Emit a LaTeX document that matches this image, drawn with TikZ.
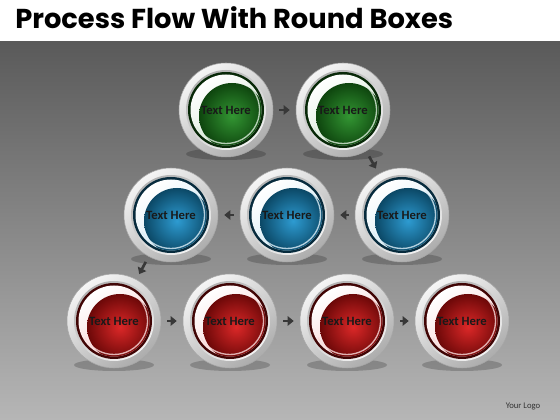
\documentclass[tikz,border=0pt]{standalone}
\usepackage{fontspec}
\setmainfont{Carlito}
\newfontfamily\titlefont{Poppins}
\usetikzlibrary{arrows.meta}

\definecolor{boxgreen}{HTML}{1C8A1C}
\definecolor{boxblue}{HTML}{1690CC}
\definecolor{boxred}{HTML}{D81010}
\definecolor{bgtop}{HTML}{5A5A5A}
\definecolor{bgbottom}{HTML}{B6B6B6}
\definecolor{arrowgray}{HTML}{383838}

\pgfdeclarelayer{bg}
\pgfsetlayers{bg,main}

\tikzset{
  roundbox/.style={circle, minimum size=70.5pt, inner sep=0pt,
    font=\bfseries\fontsize{9.5}{10}\selectfont, text=black!90},
  flow/.style={arrowgray, line width=2pt, -{Triangle[length=4.5pt,width=7pt]},
    shorten >=4.5pt, shorten <=4.5pt}
}

\begin{document}
\begin{tikzpicture}[x=0.75pt,y=0.75pt]
\useasboundingbox (0,0) rectangle (560,420);
\node (title) at (15,391) [anchor=base west, inner sep=0pt,
  font=\titlefont\bfseries\fontsize{20.5}{24}\selectfont] {Process Flow With Round Boxes};
% green row
\node[roundbox] (g1) at (226,310) {Text Here};
\node[roundbox] (g2) at (343,310) {Text Here};
% blue row
\node[roundbox] (b1) at (171,205) {Text Here};
\node[roundbox] (b2) at (287,205) {Text Here};
\node[roundbox] (b3) at (402,205) {Text Here};
% red row
\node[roundbox] (r1) at (114,99) {Text Here};
\node[roundbox] (r2) at (230,99) {Text Here};
\node[roundbox] (r3) at (347,99) {Text Here};
\node[roundbox] (r4) at (462,99) {Text Here};
% arrows
\draw[flow] (g1) -- (g2);
\draw[flow] (g2) -- (b3);
\draw[flow] (b3) -- (b2);
\draw[flow] (b2) -- (b1);
\draw[flow] (b1) -- (r1);
\draw[flow] (r1) -- (r2);
\draw[flow] (r2) -- (r3);
\draw[flow] (r3) -- (r4);
\node (logo) at (523,14) [font=\fontsize{6.5}{8}\selectfont, text=black!80] {Your Logo};
% background, bezels and glass
\begin{pgfonlayer}{bg}
\fill[white] (0,378) rectangle (560,420);
\shade[top color=bgtop, bottom color=bgbottom] (0,0) rectangle (560,378);
\foreach \n/\c in {g1/boxgreen,g2/boxgreen,b1/boxblue,b2/boxblue,b3/boxblue,
                   r1/boxred,r2/boxred,r3/boxred,r4/boxred} {
  \begin{scope}[shift={(\n.center)}]
    \fill[black, opacity=0.2] (0,-44) ellipse (40 and 6);
    \shade[top color=gray!8, bottom color=gray!65, shading angle=35] (0,0) circle (47);
    \draw[gray!70, line width=0.4pt] (0,0) circle (47);
    \shade[top color=gray!60, bottom color=gray!10, shading angle=35] (0,0) circle (40);
    \fill[\c!30!black] (0,0) circle (38);
    \shade[top color=white, bottom color=\c!20!white, shading angle=35] (0,0) circle (35.5);
    \begin{scope}
      \clip (0,0) circle (35.5);
      \shade[inner color=\c!90!white, outer color=\c!50!black] (6,-6) circle (33);
    \end{scope}
    \draw[\c!15!white, opacity=0.8, line width=1pt] (45:33.5) arc (45:-150:33.5);
  \end{scope}
}
\end{pgfonlayer}
\end{tikzpicture}
\end{document}
